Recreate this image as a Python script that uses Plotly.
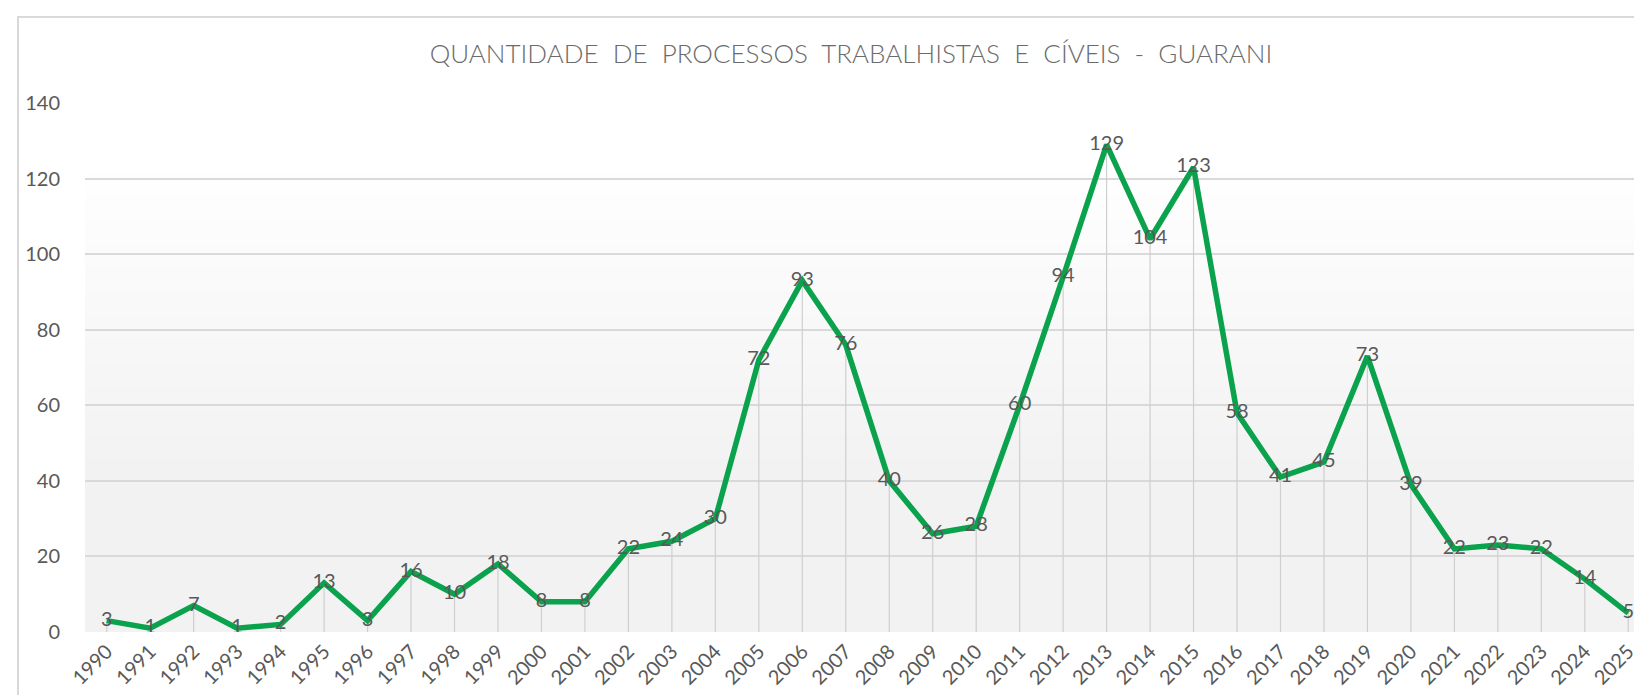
import plotly.graph_objects as go

years = [str(y) for y in range(1990, 2026)]
counts = [3, 1, 7, 1, 2, 13, 3, 16, 10, 18, 8, 8, 22, 24, 30, 72, 93, 76, 40, 26,
          28, 60, 94, 129, 104, 123, 58, 41, 45, 73, 39, 22, 23, 22, 14, 5]
y_ticks = [0, 20, 40, 60, 80, 100, 120, 140]
title_text = "QUANTIDADE  DE  PROCESSOS  TRABALHISTAS  E  CÍVEIS  -  GUARANI"

W, H = 1642, 695
L, R, T, B = 77, 0, 95, 71
FONT = "Lato"
GRAY = "#595959"
GREEN = "#0AA24C"

fig = go.Figure()

# drop lines from each point to the axis
dx, dy = [], []
for yr, v in zip(years, counts):
    dx += [yr, yr, None]
    dy += [v, 0, None]
fig.add_trace(go.Scatter(x=dx, y=dy, mode="lines",
                         line=dict(color="#cfcfcf", width=1.2),
                         hoverinfo="skip", showlegend=False))

fig.add_trace(go.Scatter(x=years, y=counts, mode="lines+text",
                         text=[str(v) for v in counts],
                         textposition="middle center",
                         textfont=dict(family=FONT, size=20, color=GRAY),
                         line=dict(color=GREEN, width=5.5),
                         showlegend=False))

# plot-area vertical gradient (white at top -> light gray at bottom)
shapes = []
shapes.append(dict(type="rect", xref="x domain", yref="y domain", x0=0, x1=1,
                   y0=0, y1=0.3, fillcolor="#f2f2f2", line_width=0, layer="below"))
n = 40
g0, g1 = 0.3, 0.9
for i in range(n):
    a = g0 + (g1 - g0) * i / n
    b = g0 + (g1 - g0) * (i + 1) / n
    t = (i + 0.5) / n
    c = int(round(0xf2 + (0xff - 0xf2) * t))
    col = "#%02x%02x%02x" % (c, c, c)
    shapes.append(dict(type="rect", xref="x domain", yref="y domain", x0=0, x1=1,
                       y0=a, y1=b + 0.001, fillcolor=col, line_width=0, layer="below"))

# chart border
pw = W - L - R
ph = H - T - B
bx0 = (10 - L) / pw
by1 = (H - B - 9) / ph
by0 = (H - B - 693) / ph
shapes.append(dict(type="rect", xref="paper", yref="paper", x0=bx0, x1=1.05,
                   y0=by0, y1=by1, line=dict(color="#d9d9d9", width=2),
                   fillcolor="rgba(0,0,0,0)", layer="below"))

fig.update_layout(
    width=W, height=H,
    margin=dict(l=L, r=R, t=T, b=B),
    paper_bgcolor="white", plot_bgcolor="white",
    shapes=shapes,
    title=dict(text=title_text, x=(843 - L) / pw, xref="paper", xanchor="center",
               y=1 - 46 / H, yref="container", yanchor="middle",
               font=dict(family=FONT, size=26, color="#6b6b6b", weight=300)),
    xaxis=dict(type="category", range=[-0.5, len(years) - 0.5],
               tickangle=-45, showgrid=False, zeroline=False,
               showline=False, ticks="",
               tickfont=dict(family=FONT, size=20, color=GRAY),
               ticklabelstandoff=3),
    yaxis=dict(range=[0, 140], tickvals=y_ticks, showgrid=True,
               gridcolor="#d9d9d9", gridwidth=1.5, zeroline=False,
               showline=False, ticks="",
               tickfont=dict(family=FONT, size=20, color=GRAY),
               ticklabelstandoff=24),
    font=dict(family=FONT, color=GRAY),
)

fig.write_html("out.html")
